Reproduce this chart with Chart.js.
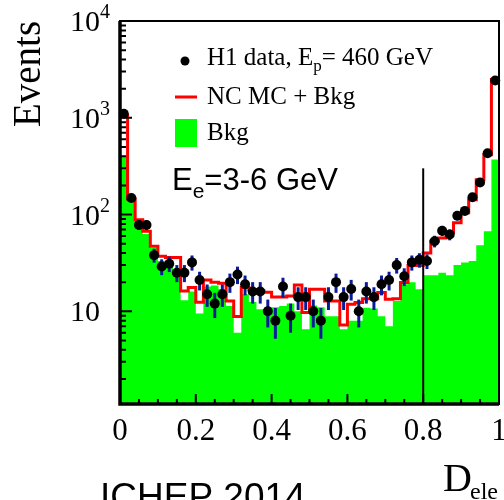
<!DOCTYPE html>
<html>
<head>
<meta charset="utf-8">
<script src="https://cdn.jsdelivr.net/npm/chart.js@4.4.1/dist/chart.umd.min.js"></script>
<style>
  html, body { margin: 0; padding: 0; background: #fff; }
  #wrap { width: 504px; height: 500px; position: relative; }
</style>
</head>
<body>
<div id="wrap"><canvas id="myChart"></canvas></div>
<script>
// D_ele bins (width 0.02)
const BIN_EDGES = [0, 0.02, 0.04, 0.06, 0.08, 0.10, 0.12, 0.14, 0.16, 0.18, 0.20, 0.22, 0.24, 0.26, 0.28, 0.30, 0.32, 0.34, 0.36, 0.38, 0.40, 0.42, 0.44, 0.46, 0.48, 0.50, 0.52, 0.54, 0.56, 0.58, 0.60, 0.62, 0.64, 0.66, 0.68, 0.70, 0.72, 0.74, 0.76, 0.78, 0.80, 0.82, 0.84, 0.86, 0.88, 0.90, 0.92, 0.94, 0.96, 0.98, 1.00];
const BIN_CENTERS = [0.01, 0.03, 0.05, 0.07, 0.09, 0.11, 0.13, 0.15, 0.17, 0.19, 0.21, 0.23, 0.25, 0.27, 0.29, 0.31, 0.33, 0.35, 0.37, 0.39, 0.41, 0.43, 0.45, 0.47, 0.49, 0.51, 0.53, 0.55, 0.57, 0.59, 0.61, 0.63, 0.65, 0.67, 0.69, 0.71, 0.73, 0.75, 0.77, 0.79, 0.81, 0.83, 0.85, 0.87, 0.89, 0.91, 0.93, 0.95, 0.97, 0.99];

const H1_DATA = [1100, 148, 78, 78, 38, 29, 31, 25, 25, 32, 21, 15, 12, 15, 20, 24, 19, 16, 16, 10, 8, 18, 9, 14, 14, 10, 8, 14, 20, 14, 17, 10, 16, 14, 19, 21, 30, 23, 32, 34, 33, 53, 68, 62, 97, 109, 151, 214, 430, 2430];
const H1_ERR = [33, 12.2, 8.8, 8.8, 6.2, 5.4, 5.6, 5, 5, 5.7, 4.6, 3.9, 3.5, 3.9, 4.5, 4.9, 4.4, 4, 4, 3.2, 2.8, 4.2, 3, 3.7, 3.7, 3.2, 2.8, 3.7, 4.5, 3.7, 4.1, 3.2, 4, 3.7, 4.4, 4.6, 5.5, 4.8, 5.7, 5.8, 5.7, 7.3, 8.2, 7.9, 9.8, 10.4, 12.3, 14.6, 20.7, 49.3];
const NC_MC_BKG = [1070, 145, 88, 67, 47, 37, 36, 36, 16.2, 17.6, 12.4, 21, 20, 19.5, 12.8, 8.8, 17.6, 16.8, 16.2, 15.7, 14, 14, 14.4, 18.7, 9.7, 16.9, 16.9, 12.8, 12.8, 7.2, 11.8, 12.3, 13.5, 13.5, 15.6, 13.3, 13.5, 19.8, 29.7, 29.7, 40, 53, 57, 65, 82, 104, 142, 229, 415, 2480];
const BKG = [400, 138, 85, 63, 45, 33, 30, 26, 13, 16, 9.5, 18, 18.5, 17, 11.3, 6, 15, 12.5, 10.5, 11, 11, 11.3, 12, 10, 6.5, 11.5, 11, 8.9, 8.9, 6.5, 8, 8, 10.9, 10.7, 8.9, 7, 12.8, 19, 20, 16.9, 23.5, 23.5, 25, 23.5, 30, 32, 33, 48, 67, 370];

const X_TICKS = [0, 0.2, 0.4, 0.6, 0.8, 1];
const X_TICK_LABELS = ['0', '0.2', '0.4', '0.6', '0.8', '1'];
const X_MINOR = [0.05, 0.1, 0.15, 0.25, 0.3, 0.35, 0.45, 0.5, 0.55, 0.65, 0.7, 0.75, 0.85, 0.9, 0.95];
const Y_TICKS = [10, 100, 1000, 10000];
const Y_TICK_EXP = ['', '2', '3', '4'];
const Y_DECADES = [1, 10, 100, 1000];
const Y_MULT = [2, 3, 4, 5, 6, 7, 8, 9];

const CUT_X = 0.8;
const CUT_TOP = 300;

const SERIF = '"Liberation Serif", "Times New Roman", serif';
const SANS = '"Liberation Sans", Arial, sans-serif';

// step histograms: value of bin i held from edge i to edge i+1
function stepPoints(vals) {
    return BIN_EDGES.map((x, i) => ({ x: x, y: vals[Math.min(i, vals.length - 1)] }));
}

const decor = {
    id: 'decor',
    beforeDatasetDraw(chart, args) {
        if (args.index !== 0) return;
        // error bars below the data points
        const { ctx, scales: { x, y } } = chart;
        ctx.save();
        ctx.strokeStyle = '#0b1a96';
        ctx.lineWidth = 3;
        H1_DATA.forEach((v, i) => {
            const px = x.getPixelForValue(BIN_CENTERS[i]);
            ctx.beginPath();
            ctx.moveTo(px, y.getPixelForValue(v + H1_ERR[i]));
            ctx.lineTo(px, y.getPixelForValue(Math.max(v - H1_ERR[i], y.min)));
            ctx.stroke();
        });
        ctx.restore();
    },
    afterDraw(chart) {
        const { ctx, chartArea: a, scales: { x, y } } = chart;
        ctx.save();
        ctx.strokeStyle = '#000';
        ctx.fillStyle = '#000';

        // cut line
        ctx.lineWidth = 2;
        const cx = x.getPixelForValue(CUT_X);
        ctx.beginPath();
        ctx.moveTo(cx, y.getPixelForValue(CUT_TOP));
        ctx.lineTo(cx, a.bottom);
        ctx.stroke();

        // frame
        ctx.lineWidth = 2;
        ctx.strokeRect(a.left, a.top, a.right - a.left, a.bottom - a.top);
        ctx.lineWidth = 3.5;
        ctx.beginPath();
        ctx.moveTo(a.left, a.top);
        ctx.lineTo(a.left, a.bottom);
        ctx.lineTo(a.right, a.bottom);
        ctx.stroke();

        // y ticks
        ctx.lineWidth = 2;
        ctx.beginPath();
        Y_TICKS.forEach(v => {
            const py = y.getPixelForValue(v);
            ctx.moveTo(a.left, py);
            ctx.lineTo(a.left + 12, py);
        });
        Y_DECADES.forEach(d => {
            Y_MULT.forEach(m => {
                const v = m * d;
                if (v < y.min || v > y.max) return;
                const py = y.getPixelForValue(v);
                ctx.moveTo(a.left, py);
                ctx.lineTo(a.left + 6, py);
            });
        });
        // x ticks
        X_TICKS.forEach(v => {
            const px = x.getPixelForValue(v);
            ctx.moveTo(px, a.bottom);
            ctx.lineTo(px, a.bottom - 10);
        });
        X_MINOR.forEach(v => {
            const px = x.getPixelForValue(v);
            ctx.moveTo(px, a.bottom);
            ctx.lineTo(px, a.bottom - 5);
        });
        ctx.stroke();

        // x tick labels
        ctx.font = '31px ' + SERIF;
        ctx.textAlign = 'center';
        ctx.textBaseline = 'alphabetic';
        X_TICKS.forEach((v, i) => {
            ctx.fillText(X_TICK_LABELS[i], x.getPixelForValue(v), 440);
        });

        // y tick labels
        Y_TICKS.forEach((v, i) => {
            const py = y.getPixelForValue(v);
            ctx.font = '30px ' + SERIF;
            ctx.textAlign = 'right';
            ctx.fillText('10', 100, py + 10);
            if (Y_TICK_EXP[i]) {
                ctx.font = '20px ' + SERIF;
                ctx.textAlign = 'left';
                ctx.fillText(Y_TICK_EXP[i], 100, py - 3);
            }
        });

        // axis titles
        ctx.save();
        ctx.translate(40, 74);
        ctx.rotate(-Math.PI / 2);
        ctx.font = '39px ' + SERIF;
        ctx.textAlign = 'center';
        ctx.fillText('Events', 0, 0);
        ctx.restore();

        ctx.textAlign = 'left';
        ctx.font = '40px ' + SERIF;
        ctx.fillText('D', 443, 491);
        ctx.font = '24px ' + SERIF;
        ctx.fillText('ele', 470, 499);

        ctx.font = '37px ' + SANS;
        ctx.fillText('ICHEP 2014', 100, 509);

        // legend
        ctx.beginPath();
        ctx.arc(185, 61, 4.5, 0, Math.PI * 2);
        ctx.fill();
        let tx = 207;
        ctx.font = '25px ' + SERIF;
        ctx.fillText('H1 data, E', tx, 65);
        tx += ctx.measureText('H1 data, E').width;
        ctx.font = '17px ' + SERIF;
        ctx.fillText('p', tx, 71);
        tx += ctx.measureText('p').width;
        ctx.font = '25px ' + SERIF;
        ctx.fillText('= 460 GeV', tx, 65);

        ctx.strokeStyle = '#ff0000';
        ctx.lineWidth = 3;
        ctx.beginPath();
        ctx.moveTo(175, 97);
        ctx.lineTo(197, 97);
        ctx.stroke();
        ctx.fillText('NC MC + Bkg', 207, 104);

        ctx.fillStyle = '#00ff00';
        ctx.fillRect(175, 119, 22, 28);
        ctx.fillStyle = '#000';
        ctx.fillText('Bkg', 207, 140);

        // energy range label
        tx = 172;
        ctx.font = '31px ' + SANS;
        ctx.fillText('E', tx, 190);
        tx += ctx.measureText('E').width;
        ctx.font = '21px ' + SANS;
        ctx.fillText('e', tx, 198);
        tx += ctx.measureText('e').width;
        ctx.font = '31px ' + SANS;
        ctx.fillText('=3-6 GeV', tx, 190);

        ctx.restore();
    }
};

const config = {
    type: 'line',
    data: {
        datasets: [
            {
                label: 'H1 data',
                data: H1_DATA.map((v, i) => ({ x: BIN_CENTERS[i], y: v })),
                showLine: false,
                pointRadius: 5,
                pointBackgroundColor: '#000',
                pointBorderWidth: 0,
                clip: false
            },
            {
                label: 'NC MC + Bkg',
                data: stepPoints(NC_MC_BKG),
                stepped: true,
                borderColor: '#ff0000',
                borderWidth: 3,
                pointRadius: 0,
                fill: false
            },
            {
                label: 'Bkg',
                data: stepPoints(BKG),
                stepped: true,
                borderColor: 'rgba(0,0,0,0)',
                borderWidth: 0,
                backgroundColor: '#00ff00',
                pointRadius: 0,
                fill: 'start'
            }
        ]
    },
    options: {
        responsive: true,
        maintainAspectRatio: false,
        animation: false,
        layout: { padding: { left: 120, top: 21, right: 4.5, bottom: 96 } },
        scales: {
            x: { type: 'linear', min: 0, max: 1, display: false },
            y: { type: 'logarithmic', min: 1.1, max: 10000, display: false }
        },
        plugins: {
            legend: { display: false },
            tooltip: { enabled: false }
        }
    },
    plugins: [decor]
};

const myChart = new Chart(document.getElementById('myChart'), config);
</script>
</body>
</html>
